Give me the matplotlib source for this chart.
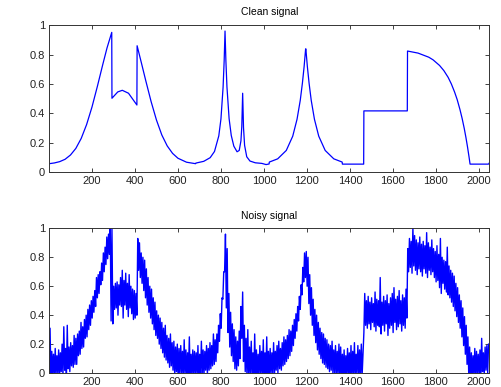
import numpy as np
import matplotlib
matplotlib.use("Agg")
import matplotlib.pyplot as plt

plt.rcParams['font.family'] = ['Liberation Sans', 'DejaVu Sans']

# clean signal (sample index, amplitude)
clean_x = [1, 25, 50, 75, 100, 125, 150, 175, 200, 225, 250, 270, 292, 293,
           320, 341, 370, 409, 410, 430, 450, 475, 500, 525, 550, 575, 600,
           640, 682, 683, 720, 750, 770, 790, 800, 810, 815, 819, 823, 828,
           838, 848, 860, 875, 885, 893, 897, 901, 905, 910, 920, 935, 960,
           990, 1010, 1024, 1025, 1064, 1104, 1134, 1154, 1169, 1179, 1187,
           1194, 1195, 1202, 1210, 1220, 1235, 1255, 1285, 1325, 1364, 1365,
           1464, 1465, 1667, 1668, 1717, 1767, 1787, 1817, 1837, 1857, 1872,
           1887, 1899, 1912, 1922, 1932, 1940, 1947, 1954, 1959, 2045, 2048]
clean_y = [0.058, 0.063, 0.072, 0.088, 0.117, 0.162, 0.230, 0.324, 0.443,
           0.583, 0.731, 0.845, 0.951, 0.503, 0.546, 0.557, 0.537, 0.457,
           0.860, 0.743, 0.624, 0.481, 0.355, 0.253, 0.179, 0.128, 0.095,
           0.068, 0.058, 0.062, 0.074, 0.099, 0.141, 0.247, 0.362, 0.578,
           0.758, 0.960, 0.759, 0.579, 0.364, 0.250, 0.177, 0.139, 0.148,
           0.213, 0.310, 0.537, 0.303, 0.183, 0.105, 0.076, 0.064, 0.060,
           0.052, 0.056, 0.069, 0.091, 0.148, 0.245, 0.360, 0.489, 0.606,
           0.719, 0.839, 0.839, 0.719, 0.606, 0.489, 0.360, 0.245, 0.148,
           0.091, 0.069, 0.055, 0.055, 0.417, 0.417, 0.824, 0.810, 0.782,
           0.764, 0.726, 0.691, 0.645, 0.600, 0.545, 0.494, 0.426, 0.366,
           0.297, 0.234, 0.173, 0.106, 0.055, 0.055, 0.062]

# noisy signal: lowest / highest value in each block of 8 samples
block = 8
noisy_hi = [
    0.31, 0.15, 0.13, 0.17, 0.12, 0.16, 0.14, 0.20, 0.32, 0.17, 0.33, 0.18, 0.21, 0.19, 0.26, 0.24,
    0.27, 0.29, 0.35, 0.32, 0.37, 0.40, 0.44, 0.47, 0.50, 0.53, 0.57, 0.66, 0.68, 0.70, 0.76, 0.83,
    0.87, 0.94, 0.96, 1.02, 1.00, 0.60, 0.62, 0.63, 0.61, 0.66, 0.71, 0.64, 0.69, 0.62, 0.68, 0.60,
    0.58, 0.57, 0.55, 0.93, 0.90, 0.83, 0.80, 0.78, 0.72, 0.66, 0.60, 0.58, 0.52, 0.49, 0.43, 0.40,
    0.38, 0.35, 0.31, 0.33, 0.26, 0.24, 0.27, 0.21, 0.22, 0.18, 0.20, 0.17, 0.19, 0.15, 0.23, 0.16,
    0.14, 0.25, 0.13, 0.16, 0.15, 0.14, 0.19, 0.13, 0.22, 0.16, 0.15, 0.19, 0.17, 0.21, 0.19, 0.27,
    0.23, 0.27, 0.33, 0.41, 0.52, 0.70, 0.96, 0.86, 0.55, 0.42, 0.34, 0.30, 0.25, 0.22, 0.29, 0.46,
    0.56, 0.33, 0.24, 0.30, 0.18, 0.22, 0.14, 0.27, 0.16, 0.13, 0.19, 0.15, 0.23, 0.14, 0.25, 0.15,
    0.17, 0.14, 0.21, 0.15, 0.19, 0.22, 0.17, 0.21, 0.25, 0.23, 0.26, 0.30, 0.29, 0.33, 0.37, 0.41,
    0.46, 0.53, 0.61, 0.73, 0.83, 0.84, 0.80, 0.68, 0.59, 0.51, 0.44, 0.40, 0.35, 0.31, 0.28, 0.27,
    0.24, 0.23, 0.20, 0.19, 0.22, 0.16, 0.19, 0.15, 0.20, 0.18, 0.13, 0.16, 0.12, 0.17, 0.14, 0.19,
    0.15, 0.21, 0.13, 0.19, 0.16, 0.20, 0.14, 0.55, 0.50, 0.53, 0.49, 0.52, 0.48, 0.56, 0.51, 0.50,
    0.66, 0.49, 0.53, 0.50, 0.54, 0.48, 0.52, 0.55, 0.59, 0.51, 0.53, 0.57, 0.50, 0.54, 0.52, 0.58,
    0.86, 0.93, 0.91, 1.01, 0.95, 0.92, 0.90, 0.94, 0.89, 0.91, 0.88, 0.97, 0.90, 0.87, 0.92, 0.86,
    0.84, 0.88, 0.82, 0.93, 0.80, 0.78, 0.77, 0.87, 0.74, 0.71, 0.69, 0.67, 0.62, 0.59, 0.54, 0.50,
    0.45, 0.39, 0.33, 0.25, 0.18, 0.14, 0.12, 0.17, 0.15, 0.13, 0.16, 0.24, 0.14, 0.18, 0.19, 0.20]
noisy_lo = [
    -0.02, -0.03, 0.00, -0.04, -0.01, 0.00, -0.03, 0.01, -0.02, 0.02, -0.05, 0.03, 0.01, 0.05, 0.04, 0.06,
    0.06, 0.12, 0.13, 0.17, 0.18, 0.24, 0.25, 0.30, 0.33, 0.38, 0.42, 0.46, 0.52, 0.55, 0.61, 0.64,
    0.70, 0.75, 0.79, 0.82, 0.36, 0.34, 0.44, 0.45, 0.40, 0.47, 0.46, 0.38, 0.47, 0.44, 0.39, 0.45,
    0.41, 0.37, 0.38, 0.40, 0.71, 0.66, 0.62, 0.57, 0.52, 0.47, 0.42, 0.38, 0.34, 0.30, 0.26, 0.24,
    0.20, 0.17, 0.14, 0.11, 0.09, 0.07, 0.04, 0.05, 0.02, -0.02, 0.01, -0.05, -0.01, 0.00, -0.03, -0.01,
    -0.02, 0.00, -0.04, -0.01, -0.03, 0.00, -0.02, -0.05, -0.01, 0.00, -0.02, 0.02, -0.01, 0.02, 0.03, 0.05,
    0.06, 0.08, 0.14, 0.22, 0.31, 0.51, 0.70, 0.45, 0.28, 0.18, 0.12, 0.08, 0.03, 0.02, 0.05, 0.10,
    0.24, 0.08, 0.01, -0.02, -0.04, 0.00, -0.03, -0.05, -0.01, -0.02, -0.04, 0.00, -0.03, -0.06, -0.02, -0.03,
    -0.03, -0.01, 0.00, -0.02, 0.02, 0.00, 0.03, 0.02, 0.05, 0.06, 0.08, 0.10, 0.12, 0.15, 0.19, 0.24,
    0.29, 0.36, 0.44, 0.54, 0.63, 0.66, 0.60, 0.48, 0.40, 0.33, 0.26, 0.21, 0.16, 0.13, 0.10, 0.07,
    0.06, 0.04, 0.03, 0.01, 0.02, -0.01, 0.00, -0.02, -0.01, -0.03, -0.04, -0.02, -0.05, -0.01, -0.03, -0.02,
    -0.03, -0.01, -0.04, 0.00, -0.02, -0.03, -0.01, 0.28, 0.33, 0.31, 0.34, 0.30, 0.35, 0.32, 0.29, 0.33,
    0.32, 0.27, 0.33, 0.29, 0.34, 0.26, 0.31, 0.33, 0.28, 0.35, 0.30, 0.32, 0.34, 0.29, 0.33, 0.31,
    0.38, 0.70, 0.73, 0.69, 0.74, 0.71, 0.68, 0.72, 0.70, 0.67, 0.72, 0.69, 0.66, 0.71, 0.68, 0.70,
    0.66, 0.63, 0.64, 0.59, 0.55, 0.62, 0.58, 0.56, 0.54, 0.52, 0.49, 0.46, 0.43, 0.39, 0.35, 0.31,
    0.25, 0.19, 0.13, 0.06, -0.02, -0.05, -0.03, -0.01, -0.04, 0.00, -0.02, -0.03, 0.01, -0.01, 0.02, 0.00]

xticks = [200, 400, 600, 800, 1000, 1200, 1400, 1600, 1800, 2000]
yticks = [0, 0.2, 0.4, 0.6, 0.8, 1]
yticklabels = ['0', '0.2', '0.4', '0.6', '0.8', '1']

# zigzag between the low and high value of each block
starts = np.arange(len(noisy_lo)) * block + 1
noisy_x = np.ravel(np.column_stack([starts, starts + block // 2]))
noisy_y = np.ravel(np.column_stack([noisy_lo, noisy_hi]))

fig = plt.figure(figsize=(5.02, 3.87), dpi=100)
ax1 = fig.add_axes([0.098, 0.555, 0.8765, 0.38])
ax2 = fig.add_axes([0.098, 0.036, 0.8765, 0.374])

ax1.plot(clean_x, clean_y, color='#0000ff', lw=0.9)
ax2.plot(noisy_x, noisy_y, color='#0000ff', lw=1.0)

for ax, title in [(ax1, 'Clean signal'), (ax2, 'Noisy signal')]:
    ax.set_xlim(1, 2048)
    ax.set_ylim(0, 1)
    ax.set_xticks(xticks)
    ax.set_yticks(yticks)
    ax.set_yticklabels(yticklabels)
    ax.tick_params(direction='in', length=3, width=0.6, labelsize=8,
                   top=True, right=True, pad=3, colors='#222222')
    for s in ax.spines.values():
        s.set_linewidth(0.7)
        s.set_color('#333333')
    ax.set_title(title, fontsize=7.5, pad=7)

fig.savefig('out.png', dpi=100)
